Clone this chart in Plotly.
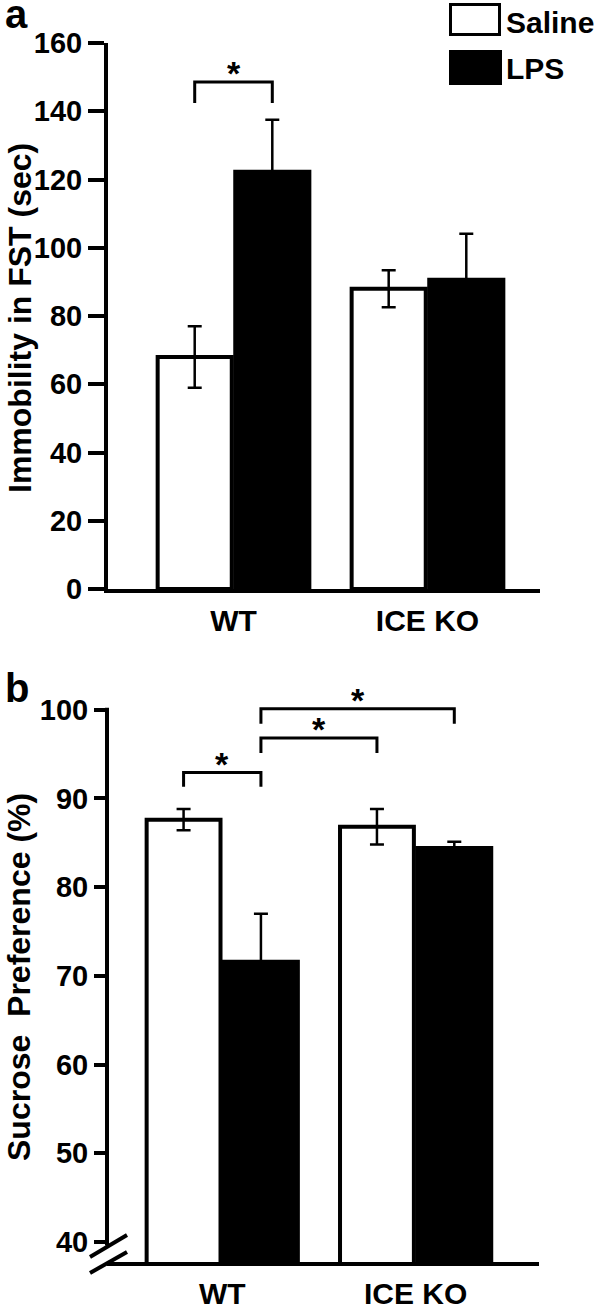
import plotly.graph_objects as go

# ---------------- data ----------------
groups = ["WT", "ICE KO"]
series = ["Saline", "LPS"]

fst_saline = [68.0, 88.0]
fst_saline_err = [9.0, 5.4]
fst_lps = [122.3, 90.6]
fst_lps_err = [15.2, 13.5]

suc_saline = [87.6, 86.8]
suc_saline_err = [1.2, 2.0]
suc_lps = [71.6, 84.4]
suc_lps_err = [5.4, 0.7]

fst_ticks = [0, 20, 40, 60, 80, 100, 120, 140, 160]
suc_ticks = [40, 50, 60, 70, 80, 90, 100]

fst_title = "Immobility in FST (sec)"
suc_title = "Sucrose  Preference (%)"

# significance brackets: (group_a, series_a, group_b, series_b, level, leg drop)
fst_sig = [(0, 0, 0, 1, 148.6, 6.2)]
suc_sig = [(0, 0, 0, 1, 92.9, 1.6), (0, 1, 1, 0, 96.8, 1.7), (0, 1, 1, 1, 100.1, 1.7)]

# ---------------- layout helpers ----------------
W, H = 600, 1308
FONT = "Liberation Sans, Arial, sans-serif"
BARGAP = 0.2
OFF = (1 - BARGAP) / 4


def px(x):
    return x / W


def py(y):
    return 1 - y / H


fills = ["white", "black"]

fig = go.Figure()

panels = [
    ("x", "y", [fst_saline, fst_lps], [fst_saline_err, fst_lps_err]),
    ("x2", "y2", [suc_saline, suc_lps], [suc_saline_err, suc_lps_err]),
]
for xa, ya, vals, errs in panels:
    for i, name in enumerate(series):
        fig.add_trace(go.Bar(
            x=groups, y=vals[i], name=name, xaxis=xa, yaxis=ya,
            marker=dict(color=fills[i], line=dict(color="black", width=4)),
            error_y=dict(type="data", array=errs[i], visible=True,
                         color="black", thickness=2.5, width=7),
            showlegend=False, hoverinfo="skip",
        ))

axis_common = dict(showgrid=False, zeroline=False, linecolor="black", linewidth=4,
                   automargin=False)
tickfont = dict(family=FONT, size=29, color="black", weight="bold")
xfont = dict(family=FONT, size=30, color="black", weight="bold")

fig.update_layout(
    width=W, height=H,
    margin=dict(l=0, r=0, t=0, b=0, pad=0, autoexpand=False),
    paper_bgcolor="white", plot_bgcolor="white",
    barmode="group", bargap=BARGAP, bargroupgap=0.045,
    showlegend=False,
    xaxis=dict(domain=[px(108), px(540)], anchor="y", type="category",
               range=[-0.647, 1.58], showline=True, ticks="",
               tickfont=xfont, ticklabelstandoff=2, **axis_common),
    yaxis=dict(domain=[py(589), py(43)], anchor="x", range=[0, 160],
               tickvals=fst_ticks, showline=True, ticks="outside",
               ticklen=16, tickwidth=4, tickcolor="black",
               tickfont=tickfont, **axis_common),
    xaxis2=dict(domain=[px(107), px(539)], anchor="y2", type="category",
                range=[-0.596, 1.638], showline=True, ticks="",
                tickfont=xfont, ticklabelstandoff=2, **axis_common),
    yaxis2=dict(domain=[py(1262), py(683)], anchor="x2", range=[37.75, 103],
                tickvals=suc_ticks, showline=False, ticks="outside",
                ticklen=12, tickwidth=4, tickcolor="black",
                tickfont=tickfont, **axis_common),
)

shapes = []
annotations = []

# y-axis line of panel b (stops at the break)
shapes.append(dict(type="line", xref="x2 domain", yref="y2", x0=0, x1=0,
                   y0=100.2, y1=39.6, line=dict(color="black", width=4)))
# axis-break marks
for (x0, y0, x1, y1) in [(90, 1257, 127, 1235), (90, 1273, 127, 1252)]:
    shapes.append(dict(type="line", xref="paper", yref="paper",
                       x0=px(x0), y0=py(y0), x1=px(x1), y1=py(y1),
                       line=dict(color="black", width=4)))

# significance brackets
for xa, ya, sigs in [("x", "y", fst_sig), ("x2", "y2", suc_sig)]:
    for ga, sa, gb, sb, lvl, drop in sigs:
        xa_pos = ga + (-OFF if sa == 0 else OFF)
        xb_pos = gb + (-OFF if sb == 0 else OFF)
        shapes.append(dict(
            type="path", xref=xa, yref=ya,
            path=f"M {xa_pos},{lvl - drop} L {xa_pos},{lvl} L {xb_pos},{lvl} L {xb_pos},{lvl - drop}",
            line=dict(color="black", width=3)))
        annotations.append(dict(
            x=(xa_pos + xb_pos) / 2, y=lvl, xref=xa, yref=ya, text="*",
            showarrow=False, yanchor="bottom", yshift=-12,
            font=dict(family=FONT, size=34, color="black", weight="bold")))

# legend (drawn)
legend_boxes = [(449, 3, 501, 36), (449, 50, 502, 85)]
legend_text_y = [22, 69]
for i, name in enumerate(series):
    x0, y0, x1, y1 = legend_boxes[i]
    shapes.append(dict(type="rect", xref="paper", yref="paper",
                       x0=px(x0 + 1.5), y0=py(y0 + 1.5), x1=px(x1 - 1.5), y1=py(y1 - 1.5),
                       fillcolor=fills[i], line=dict(color="black", width=3)))
    annotations.append(dict(x=px(504), y=py(legend_text_y[i]), xref="paper", yref="paper",
                            text=name, showarrow=False, xanchor="left", yanchor="middle",
                            font=dict(family=FONT, size=30, color="black", weight="bold")))

# axis titles
annotations.append(dict(x=px(20), y=py(318), xref="paper", yref="paper", text=fst_title,
                        textangle=-90, showarrow=False, xanchor="center", yanchor="middle",
                        font=dict(family=FONT, size=32, color="black", weight="bold")))
annotations.append(dict(x=px(19), y=py(977), xref="paper", yref="paper", text=suc_title,
                        textangle=-90, showarrow=False, xanchor="center", yanchor="middle",
                        font=dict(family=FONT, size=32, color="black", weight="bold")))

# panel letters
for letter, ybottom in [("a", 38), ("b", 712)]:
    annotations.append(dict(x=px(3), y=py(ybottom), xref="paper", yref="paper", text=letter,
                            showarrow=False, xanchor="left", yanchor="bottom",
                            font=dict(family=FONT, size=40, color="black", weight="bold")))

fig.update_layout(shapes=shapes, annotations=annotations)
fig.write_html("out.html", config={"displayModeBar": False},
               post_script="document.body.style.margin='0';document.body.style.padding='0';")
